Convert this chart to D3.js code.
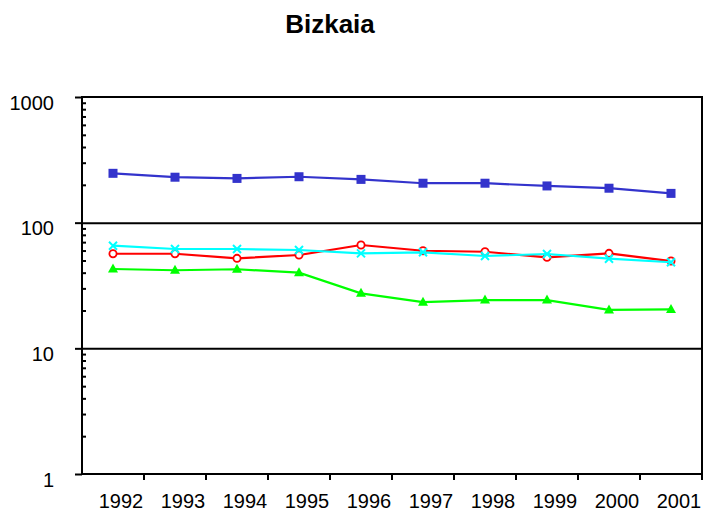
<!DOCTYPE html>
<html>
<head>
<meta charset="utf-8">
<script src="https://cdn.jsdelivr.net/npm/d3@7.9.0/dist/d3.min.js"></script>
<style>
  html, body { margin: 0; padding: 0; background: #fff; }
  svg { display: block; font-family: Arial, "Liberation Sans", sans-serif; }
  .axis path { display: none; }
</style>
</head>
<body>
<div id="chart"></div>
<script>
// values (log scale)
const years = ['1992', '1993', '1994', '1995', '1996', '1997', '1998', '1999', '2000', '2001'];
const blueSeries = [247, 230, 225, 232, 221, 206, 206, 196, 188, 171];
const redSeries = [56.6, 56.6, 52, 55.3, 66.4, 59.8, 58.7, 53, 57, 49.5];
const greenSeries = [42.8, 41.8, 42.6, 40, 27.4, 23.3, 24.2, 24.2, 20.2, 20.4];
const cyanSeries = [65.6, 61.7, 61.7, 60.6, 57, 58.1, 54.3, 56.3, 51.7, 48.4];
const yTicks = [1, 10, 100, 1000];

const width = 704;
const height = 511;
const margin = { top: 97, right: 2, bottom: 37, left: 82 };

const svg = d3.select('#chart')
  .append('svg')
  .attr('width', width)
  .attr('height', height);

const x = d3.scaleBand()
  .domain(years)
  .range([margin.left, width - margin.right])
  .padding(0);

const y = d3.scaleLog()
  .domain([1, 1000])
  .range([height - margin.bottom, margin.top]);

const plotW = width - margin.right - margin.left;
const plotH = height - margin.bottom - margin.top;

// title
svg.append('text')
  .attr('x', 330)
  .attr('y', 33)
  .attr('text-anchor', 'middle')
  .style('font-size', '26px')
  .style('font-weight', 'bold')
  .text('Bizkaia');

// gridlines at the decades
svg.append('g')
  .attr('class', 'axis')
  .attr('transform', `translate(${margin.left},0)`)
  .call(d3.axisLeft(y).tickValues([10, 100]).tickFormat('').tickSize(-plotW))
  .call((g) => g.selectAll('line').attr('stroke', '#000').attr('stroke-width', 2));

// plot box
svg.append('rect')
  .attr('x', margin.left)
  .attr('y', margin.top)
  .attr('width', plotW)
  .attr('height', plotH)
  .attr('fill', 'none')
  .attr('stroke', '#000')
  .attr('stroke-width', 2);

// minor ticks (inside)
const minor = [];
[1, 10, 100].forEach((base) => {
  for (let k = 2; k <= 9; k++) minor.push(base * k);
});
svg.append('g')
  .attr('class', 'axis')
  .attr('transform', `translate(${margin.left},0)`)
  .call(d3.axisRight(y).tickValues(minor).tickFormat('').tickSize(4))
  .call((g) => g.selectAll('line').attr('stroke', '#000').attr('stroke-width', 2));

// y axis
svg.append('g')
  .attr('class', 'axis')
  .attr('transform', `translate(${margin.left},0)`)
  .call(d3.axisLeft(y).tickValues(yTicks).tickFormat(d3.format('d')).tickSize(7).tickPadding(21))
  .call((g) => g.selectAll('line').attr('stroke', '#000').attr('stroke-width', 2))
  .call((g) => g.selectAll('text')
    .attr('fill', '#000')
    .attr('dy', '0.6em')
    .style('font-size', '20px'));

// x axis: tick marks at category boundaries, labels near centres
const xAxis = svg.append('g')
  .attr('class', 'axis')
  .attr('transform', `translate(0,${height - margin.bottom})`)
  .call(d3.axisBottom(x).tickSize(6).tickPadding(14));
xAxis.selectAll('line')
  .attr('x1', x.bandwidth() / 2)
  .attr('x2', x.bandwidth() / 2)
  .attr('stroke', '#000')
  .attr('stroke-width', 2);
xAxis.selectAll('text')
  .attr('x', 8)
  .attr('fill', '#000')
  .style('font-size', '20px');

const cx = (i) => x(years[i]) + x.bandwidth() / 2;
const line = d3.line()
  .x((d, i) => cx(i))
  .y((d) => y(d));

function drawSeries(values, color, marker) {
  const g = svg.append('g');
  g.append('path')
    .datum(values)
    .attr('d', line)
    .attr('fill', 'none')
    .attr('stroke', color)
    .attr('stroke-width', 2.2);

  const pts = g.selectAll('g.pt').data(values).join('g')
    .attr('transform', (d, i) => `translate(${cx(i)},${y(d)})`);

  if (marker === 'square') {
    pts.append('rect')
      .attr('x', -4.5).attr('y', -4.5).attr('width', 9).attr('height', 9)
      .attr('fill', color);
  } else if (marker === 'circle') {
    pts.append('circle')
      .attr('r', 3.6)
      .attr('fill', '#fff')
      .attr('stroke', color)
      .attr('stroke-width', 1.8);
  } else if (marker === 'triangle') {
    pts.append('path')
      .attr('d', 'M0,-5.5L5,3.5L-5,3.5Z')
      .attr('fill', color);
  } else if (marker === 'cross') {
    pts.append('path')
      .attr('d', 'M-4,-4L4,4M-4,4L4,-4')
      .attr('stroke', color)
      .attr('stroke-width', 2);
  }
}

drawSeries(blueSeries, '#3333CC', 'square');
drawSeries(greenSeries, '#00FF00', 'triangle');
drawSeries(redSeries, '#FF0000', 'circle');
drawSeries(cyanSeries, '#00FFFF', 'cross');
</script>
</body>
</html>
